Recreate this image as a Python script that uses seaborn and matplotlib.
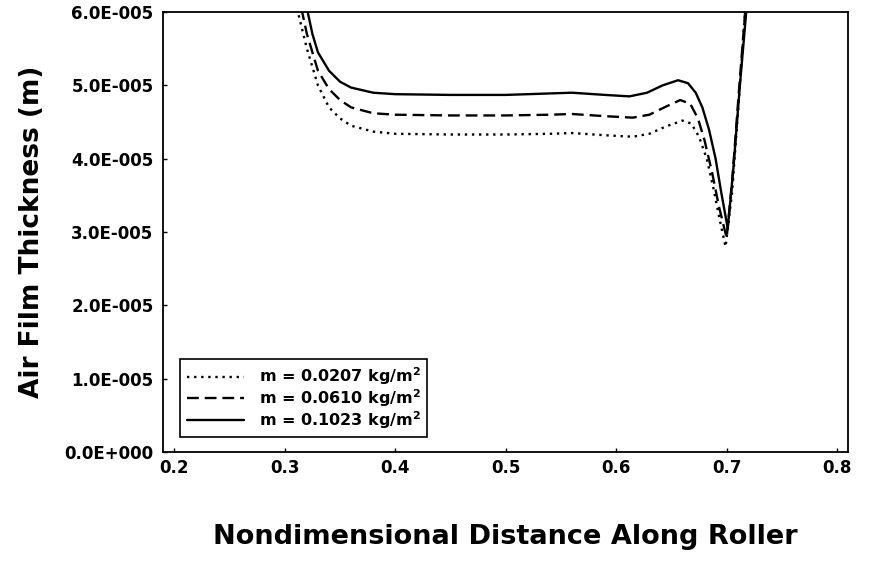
import numpy as np
import pandas as pd
import matplotlib
matplotlib.use("Agg")
import matplotlib.pyplot as plt
import seaborn as sns
from matplotlib.ticker import FuncFormatter

# air film thickness along the roller, in units of 1e-5 m
x_low = [0.311, 0.32, 0.33, 0.34, 0.35, 0.36, 0.38, 0.40, 0.45, 0.50, 0.54, 0.56,
         0.59, 0.615, 0.63, 0.645, 0.66, 0.668, 0.675, 0.682, 0.688, 0.694, 0.699,
         0.705, 0.711, 0.717]
h_low = [6.05, 5.5, 5.0, 4.7, 4.55, 4.45, 4.37, 4.34, 4.33, 4.33, 4.34, 4.35,
         4.32, 4.30, 4.34, 4.44, 4.52, 4.48, 4.3, 4.0, 3.6, 3.15, 2.8,
         3.55, 4.8, 6.05]

x_mid = [0.315, 0.32, 0.33, 0.34, 0.35, 0.36, 0.38, 0.40, 0.45, 0.50, 0.54, 0.56,
         0.59, 0.615, 0.63, 0.645, 0.658, 0.667, 0.674, 0.68, 0.687, 0.693, 0.70,
         0.705, 0.711, 0.717]
h_mid = [6.05, 5.7, 5.2, 4.95, 4.8, 4.7, 4.62, 4.6, 4.59, 4.59, 4.6, 4.61,
         4.58, 4.56, 4.6, 4.71, 4.8, 4.75, 4.55, 4.25, 3.8, 3.35, 2.92,
         3.7, 4.9, 6.05]

x_high = [0.320, 0.325, 0.33, 0.34, 0.35, 0.36, 0.38, 0.40, 0.45, 0.50, 0.54, 0.56,
          0.59, 0.612, 0.628, 0.642, 0.656, 0.665, 0.672, 0.678, 0.684, 0.69, 0.695,
          0.701, 0.706, 0.712, 0.718]
h_high = [6.05, 5.7, 5.45, 5.2, 5.05, 4.97, 4.9, 4.88, 4.87, 4.87, 4.89, 4.9,
          4.87, 4.85, 4.9, 5.0, 5.07, 5.03, 4.9, 4.7, 4.4, 4.0, 3.55,
          3.05, 3.85, 5.0, 6.05]

labels = ["m = 0.0207 kg/m$^2$", "m = 0.0610 kg/m$^2$", "m = 0.1023 kg/m$^2$"]

df = pd.concat([
    pd.DataFrame({"x": x_low, "h": h_low, "case": labels[0]}),
    pd.DataFrame({"x": x_mid, "h": h_mid, "case": labels[1]}),
    pd.DataFrame({"x": x_high, "h": h_high, "case": labels[2]}),
])

sns.set_style("ticks", {"axes.edgecolor": "black", "text.color": "black",
                        "axes.labelcolor": "black", "xtick.color": "black",
                        "ytick.color": "black"})
plt.rcParams["font.family"] = ["DejaVu Sans"]
plt.rcParams["font.weight"] = "bold"
plt.rcParams["mathtext.default"] = "bf"

fig = plt.figure(figsize=(8.78, 5.73), dpi=100)
ax = fig.add_axes([0.186, 0.211, 0.780, 0.768])

styles = {labels[0]: (1, 2), labels[1]: (5, 2.5), labels[2]: ""}
sns.lineplot(data=df, x="x", y="h", hue="case", style="case", dashes=styles,
             palette=["black"] * 3, linewidth=1.7, sort=False, estimator=None,
             ax=ax)

ax.set_xlim(0.19, 0.81)
ax.set_ylim(0, 6)
ax.set_xticks([0.2, 0.3, 0.4, 0.5, 0.6, 0.7, 0.8])
ax.set_yticks([0, 1, 2, 3, 4, 5, 6])
ax.yaxis.set_major_formatter(FuncFormatter(
    lambda v, p: "0.0E+000" if v == 0 else f"{v:.1f}E-005"))
ax.xaxis.set_major_formatter(FuncFormatter(lambda v, p: f"{v:.1f}"))
ax.tick_params(direction="in", length=3, labelsize=12, width=1)
ax.tick_params(axis="x", pad=5)
ax.tick_params(axis="y", pad=7)
for lab in ax.get_xticklabels() + ax.get_yticklabels():
    lab.set_fontweight("bold")
for s in ax.spines.values():
    s.set_linewidth(1.3)
    s.set_visible(True)

ax.set_xlabel("Nondimensional Distance Along Roller", fontsize=19.5, fontweight="bold",
              labelpad=34)
ax.set_ylabel("Air Film Thickness (m)", fontsize=19, fontweight="bold", labelpad=14)

leg = ax.legend(loc="lower left", bbox_to_anchor=(0.025, 0.034), borderaxespad=0,
                frameon=True, fancybox=False, edgecolor="black", handlelength=3.6,
                handletextpad=0.9, prop={"weight": "bold", "size": 11.5},
                borderpad=0.4, labelspacing=0.0, framealpha=1)
leg.get_frame().set_linewidth(1.2)

fig.savefig("out.png", dpi=100)
